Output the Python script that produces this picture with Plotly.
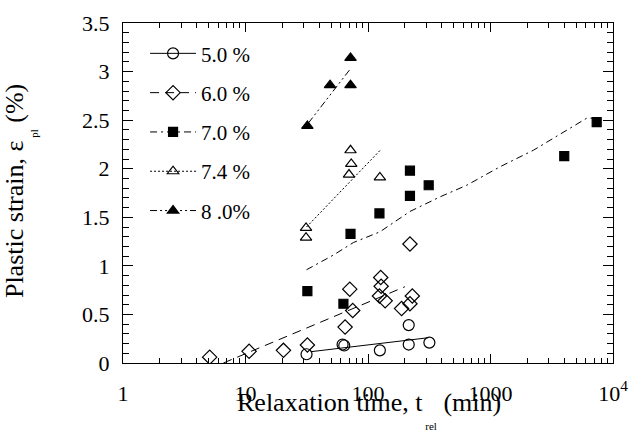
import plotly.graph_objects as go

# ---- data ----
# 5.0 %
t50 = [31.5, 62, 64, 125, 215, 215, 317]
e50 = [0.09, 0.19, 0.18, 0.13, 0.39, 0.19, 0.21]
fit50_t = [34, 311]
fit50_e = [0.116, 0.26]

# 6.0 %
t60 = [5.1, 10.7, 20.4, 32, 65, 71, 75, 124, 127, 128, 138, 188, 220, 220, 230]
e60 = [0.06, 0.12, 0.13, 0.185, 0.37, 0.76, 0.54, 0.69, 0.88, 0.79, 0.64, 0.56, 1.225, 0.61, 0.69]
fit60_t = [6.6, 200]
fit60_e = [0.0, 0.785]

# 7.0 %
t70 = [32, 63, 72, 124, 220, 220, 313, 4000, 7360]
e70 = [0.74, 0.61, 1.33, 1.54, 1.98, 1.72, 1.83, 2.13, 2.48]
fit70_t = [31.5, 52, 76, 125, 220, 387, 640, 1196, 2238, 3937, 6100, 7000]
fit70_e = [0.96, 1.11, 1.24, 1.35, 1.56, 1.71, 1.83, 2.02, 2.19, 2.38, 2.52, 2.52]

# 7.4 %
t74 = [31.2, 31.2, 72, 73, 70, 125]
e74 = [1.39, 1.29, 2.19, 2.05, 1.94, 1.91]
fit74_t = [31.5, 128]
fit74_e = [1.40, 2.20]

# 8.0 %
t80 = [32, 49, 72, 72]
e80 = [2.44, 2.86, 2.86, 3.14]
fit80_t = [32.6, 71]
fit80_e = [2.47, 3.02]

labels = ["5.0 %", "6.0 %", "7.0 %", "7.4 %", "8 .0%"]

x_tickvals = [1, 10, 100, 1000, 10000]
x_ticktext = ["1", "10", "100", "1000", "10<sup>4</sup>"]

FONT = "Liberation Serif, Times New Roman, serif"

series = [
    (t50, e50, fit50_t, fit50_e, "circle-open", 11, "solid"),
    (t60, e60, fit60_t, fit60_e, "diamond-open", 11, "9px,6px"),
    (t70, e70, fit70_t, fit70_e, "square", 9, "7px,4px,2px,4px"),
    (t74, e74, fit74_t, fit74_e, "triangle-up-open", 10, "2px,2px"),
    (t80, e80, fit80_t, fit80_e, "triangle-up", 10, "7px,3px,2px,3px,2px,3px"),
]

fig = go.Figure()
for i, (tx, ey, fx, fy, sym, sz, dash) in enumerate(series):
    fig.add_trace(go.Scatter(
        x=fx, y=fy, mode="lines", showlegend=False,
        line=dict(color="black", width=1, dash=dash), hoverinfo="skip"))
    fig.add_trace(go.Scatter(
        x=tx, y=ey, mode="markers", showlegend=False,
        marker=dict(symbol=sym, size=sz, color="black",
                    line=dict(color="black", width=1.2))))
    fig.add_trace(go.Scatter(
        x=[None], y=[None], mode="lines+markers", name=labels[i],
        legendgroup=f"g{i}",
        line=dict(color="black", width=1, dash=dash),
        marker=dict(symbol=sym, size=sz, color="black",
                    line=dict(color="black", width=1.2))))

axis_common = dict(
    showline=True, linecolor="black", linewidth=1.2, mirror="ticks",
    ticks="inside", tickcolor="black", tickwidth=1,
    showgrid=False, zeroline=False, automargin=False,
    tickfont=dict(family=FONT, size=22, color="black"),
)

minor_x = [k * 10 ** e for e in range(4) for k in range(2, 10)]

fig.update_xaxes(
    type="log", range=[0, 4],
    tickvals=x_tickvals, ticktext=x_ticktext, ticklen=9, ticklabelstandoff=10,
    minor=dict(tickvals=minor_x, ticks="inside", ticklen=5,
               tickcolor="black", tickwidth=1),
    **axis_common)

fig.update_yaxes(
    range=[0, 3.5], dtick=0.5, ticklen=10, ticklabelstandoff=8,
    minor=dict(dtick=0.1, ticks="inside", ticklen=6,
               tickcolor="black", tickwidth=1),
    **axis_common)

title_font = dict(family=FONT, size=26, color="black")
fig.add_annotation(
    text="Relaxation time, t<span style='font-size:11px;baseline-shift:-19px'> rel</span> (min)",
    xref="paper", yref="paper", x=0.503, y=-0.138,
    xanchor="center", yanchor="middle", showarrow=False, font=title_font)
fig.add_annotation(
    text="Plastic strain, ε<span style='font-size:11px;baseline-shift:-15px'> pl</span> (%)",
    xref="paper", yref="paper", x=-0.21, y=0.506, textangle=-90,
    xanchor="center", yanchor="middle", showarrow=False, font=title_font)

fig.update_layout(
    width=631, height=431,
    margin=dict(l=123, r=18, t=23, b=68),
    paper_bgcolor="white", plot_bgcolor="white",
    font=dict(family=FONT, color="black"),
    showlegend=True,
    legend=dict(x=0.045, y=0.97, xanchor="left", yanchor="top",
                bgcolor="rgba(0,0,0,0)", borderwidth=0,
                font=dict(family=FONT, size=21, color="black"),
                traceorder="grouped", tracegroupgap=9, itemwidth=46),
)

fig.write_html("out.html", config={"displayModeBar": False},
               post_script="document.body.style.margin='0px';")
